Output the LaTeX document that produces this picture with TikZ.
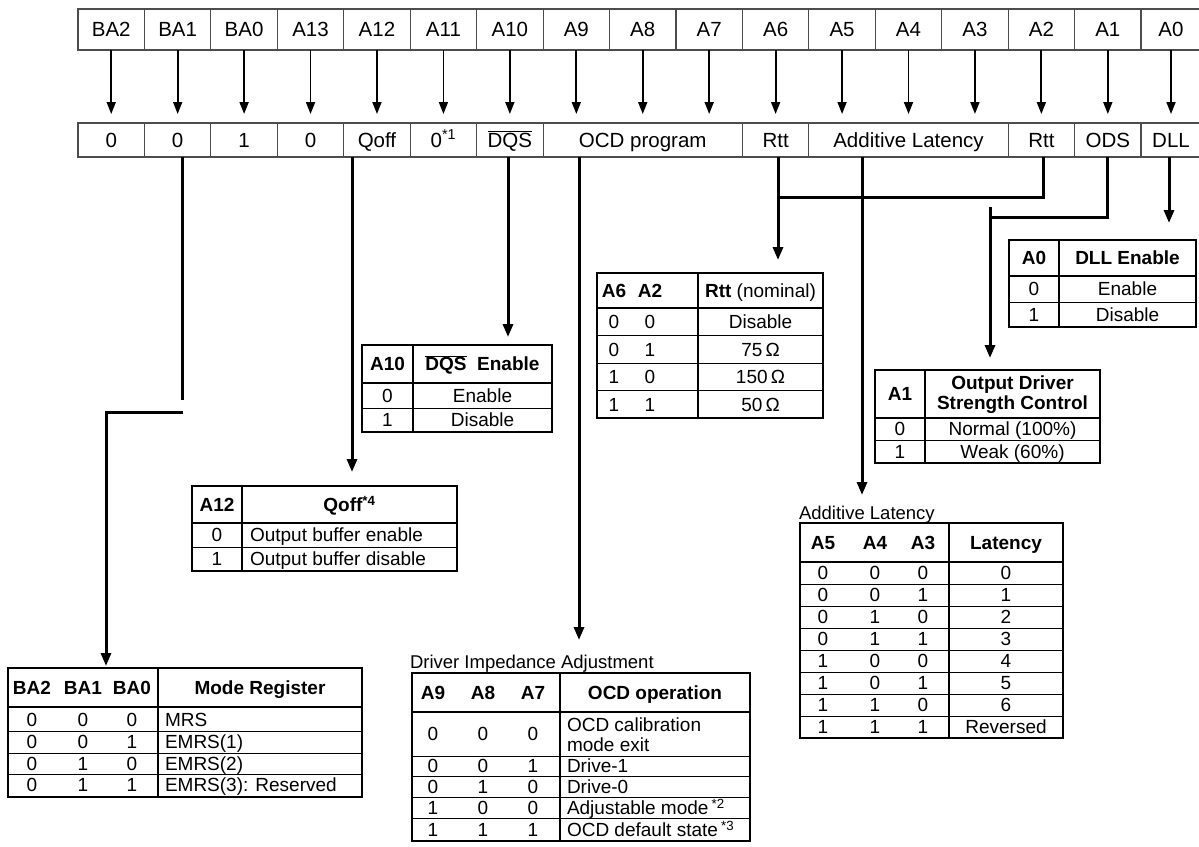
\documentclass[tikz,border=0pt]{standalone}
\usepackage{fontspec}
\setmainfont{Liberation Sans}
\usetikzlibrary{arrows.meta}
\newcommand\myregfont{\fontsize{20.5}{22}\selectfont}
\newcommand\mytabfont{\fontsize{19}{21}\selectfont}
\newcommand\mytabtwofont{\fontsize{19}{20}\selectfont}
\newcommand\mycapfont{\fontsize{18.5}{20}\selectfont}
\begin{document}
\begin{tikzpicture}[x=1pt,y=-1pt,
  every node/.style={inner sep=0pt, outer sep=0pt},
  reg1/.style={draw=black!70, line width=1.1pt, minimum height=41pt, font=\myregfont, text height=14.7pt, text depth=0pt},
  reg2/.style={draw=black!70, line width=1.1pt, minimum height=34pt, font=\myregfont, text height=14.7pt, text depth=0pt},
  regarr/.style={line width=1.8pt, -{Triangle[length=12pt,width=9pt]}, shorten >=9pt},
  conn/.style={line width=3pt},
  connarr/.style={line width=3pt, -{Triangle[length=13pt,width=10pt]}},
  frame/.style={draw, line width=2.8pt},
  hdr/.style={line width=2.6pt},
  rowl/.style={line width=1pt},
  coll/.style={line width=1.4pt},
  tt/.style={font=\mytabfont, text height=13.7pt, text depth=0pt},
  th/.style={font=\mytabfont\bfseries, text height=13.7pt, text depth=0pt},
  ttwo/.style={font=\mytabtwofont},
  captext/.style={font=\mycapfont, text height=13.3pt, text depth=0pt}
]
\useasboundingbox (0,0) rectangle (1199,846);
\clip (0,0) rectangle (1199,846);

% ---------- register row 1 ----------
\foreach \lab [count=\i from 0] in {BA2,BA1,BA0,A13,A12,A11,A10,A9,A8,A7,A6,A5,A4,A3,A2,A1} {
  \node[reg1, minimum width=66.44pt] (r\i) at ({78+66.44*(\i+0.5)},29.5) {\lab};
}
\node[reg1, minimum width=60pt] (r16) at (1171,29.5) {A0};

% ---------- register row 2 ----------
\foreach \lab [count=\i from 0] in {0,0,1,0,Qoff} {
  \node[reg2, minimum width=66.44pt] (z\i) at ({78+66.44*(\i+0.5)},140) {\lab};
}
\node[reg2, minimum width=66.44pt] (z5) at (443.42,140) {0\textsuperscript{*1}};
\node[reg2, minimum width=66.44pt] (z6) at (509.86,140) {$\overline{\hbox{DQS}}$};
\node[reg2, minimum width=199.32pt] (z7) at (642.74,140) {OCD program};
\node[reg2, minimum width=66.44pt] (z10) at (775.62,140) {Rtt};
\node[reg2, minimum width=199.32pt] (z11) at (908.5,140) {Additive Latency};
\node[reg2, minimum width=66.44pt] (z14) at (1041.38,140) {Rtt};
\node[reg2, minimum width=66.44pt] (z15) at (1107.82,140) {ODS};
\node[reg2, minimum width=60pt] (z16) at (1171,140) {DLL};

\foreach \i in {0,...,16} \draw[regarr] (r\i.south) -- (r\i.south |- z0.north);

% ---------- tables (frames as nodes) ----------
\node[frame, minimum width=354pt, minimum height=129pt] (mt) at (185,732.5) {};
\node[frame, minimum width=190pt, minimum height=87pt] (dt) at (457,388.5) {};
\node[frame, minimum width=265pt, minimum height=85pt] (qt) at (324.5,528.5) {};
\node[frame, minimum width=226pt, minimum height=145pt] (rt) at (710,345.5) {};
\node[frame, minimum width=187pt, minimum height=87pt] (lt) at (1102.5,283.5) {};
\node[frame, minimum width=225pt, minimum height=93pt] (odt) at (987.5,416.5) {};
\node[frame, minimum width=263pt, minimum height=215pt] (at) at (931.5,630.5) {};
\node[frame, minimum width=338pt, minimum height=168pt] (ct) at (581,757) {};

% ---------- connector coordinates ----------
\coordinate (ba1end) at (182,400);
\coordinate (ba1k1) at (183,412);
\coordinate (ba1k2) at (106,412);
\coordinate (mtin) at (106,666);
\coordinate (qin) at (352,472);
\coordinate (din) at (508,337);
\coordinate (cin) at (579,640);
\coordinate (rin) at (778,260);
\coordinate (rk) at (1043,197);
\coordinate (rj) at (778,197);
\coordinate (ain) at (862,495);
\coordinate (ok) at (1107,217);
\coordinate (oj) at (990,217);
\coordinate (oj2) at (990,207);
\coordinate (oin) at (990,358);
\coordinate (lin) at (1169,223);

\draw[conn] (z1.south -| ba1end) -- (ba1end);
\draw[connarr] (ba1k1) -- (ba1k2) -- (mtin);
\draw[connarr] (z4.south -| qin) -- (qin);
\draw[connarr] (z6.south -| din) -- (din);
\draw[connarr] (z7.south -| cin) -- (cin);
\draw[connarr] (z10.south -| rin) -- (rin);
\draw[conn] (z14.south -| rk) -- (rk) -- (rj);
\draw[connarr] (z11.south -| ain) -- (ain);
\draw[conn] (z15.south -| ok) -- (ok) -- (oj);
\draw[connarr] (oj2) -- (oin);
\draw[connarr] (z16.south -| lin) -- (lin);

% ---------- Mode register table ----------
\draw[hdr] (8,707) -- (362,707);
\draw[coll] (158,668) -- (158,797);
\foreach \yy in {731,753,774} \draw[rowl] (8,\yy) -- (362,\yy);
\node[th] (mth1) at (32,688) {BA2};
\node[th] (mth2) at (83,688) {BA1};
\node[th] (mth3) at (132,688) {BA0};
\node[th] (mth4) at (260,688) {Mode Register};
\foreach \a/\b/\c/\d [count=\k] in {0/0/0/MRS,0/0/1/EMRS(1),0/1/0/EMRS(2),0/1/1/{EMRS(3): Reserved}} {
  \pgfmathsetmacro\yy{709+21.75*(\k-0.5)}
  \node[tt] (mr\k-a) at (32,\yy) {\a};
  \node[tt] (mr\k-b) at (83,\yy) {\b};
  \node[tt] (mr\k-c) at (132,\yy) {\c};
  \node[tt, anchor=west] (mr\k-d) at (165,\yy) {\d};
}

% ---------- DQS table ----------
\draw[hdr] (362,383) -- (552,383);
\draw[rowl] (362,408) -- (552,408);
\draw[coll] (413,345) -- (413,432);
\node[th] (dth1) at (387.5,364) {A10};
\node[th] (dth2) at (482.5,364) {$\overline{\hbox{DQS}}$\ \ Enable};
\node[tt] (dr1a) at (387.5,396) {0};
\node[tt] (dr1b) at (482.5,396) {Enable};
\node[tt] (dr2a) at (387.5,420) {1};
\node[tt] (dr2b) at (482.5,420) {Disable};

% ---------- Qoff table ----------
\draw[hdr] (192,523) -- (457,523);
\draw[rowl] (192,547) -- (457,547);
\draw[coll] (242,486) -- (242,571);
\node[th] (qth1) at (217,504.5) {A12};
\node[th] (qth2) at (349.5,504.5) {Qoff\textsuperscript{*4}};
\node[tt] (qr1a) at (217,535) {0};
\node[tt, anchor=west] (qr1b) at (250,535) {Output buffer enable};
\node[tt] (qr2a) at (217,559) {1};
\node[tt, anchor=west] (qr2b) at (250,559) {Output buffer disable};

% ---------- Rtt table ----------
\draw[hdr] (597,308) -- (823,308);
\foreach \yy in {335.5,363,390.5} \draw[rowl] (597,\yy) -- (823,\yy);
\draw[coll] (698,273) -- (698,418);
\node[th] (rth1) at (614,290.5) {A6};
\node[th] (rth2) at (650,290.5) {A2};
\node[tt] (rth3) at (760.5,290.5) {{\bfseries Rtt} (nominal)};
\foreach \a/\b/\c [count=\k] in {0/0/Disable,0/1/{75\,Ω},1/0/{150\,Ω},1/1/{50\,Ω}} {
  \pgfmathsetmacro\yy{308+27.5*(\k-0.5)}
  \node[tt] (rr\k-a) at (614,\yy) {\a};
  \node[tt] (rr\k-b) at (650,\yy) {\b};
  \node[tt] (rr\k-c) at (760.5,\yy) {\c};
}

% ---------- DLL table ----------
\draw[hdr] (1009,276) -- (1196,276);
\draw[rowl] (1009,302) -- (1196,302);
\draw[coll] (1059,240) -- (1059,327);
\node[th] (lth1) at (1034,258) {A0};
\node[th] (lth2) at (1127.5,258) {DLL Enable};
\node[tt] (lr1a) at (1034,289) {0};
\node[tt] (lr1b) at (1127.5,289) {Enable};
\node[tt] (lr2a) at (1034,314.5) {1};
\node[tt] (lr2b) at (1127.5,314.5) {Disable};

% ---------- Output driver table ----------
\draw[hdr] (875,418) -- (1100,418);
\draw[rowl] (875,440.5) -- (1100,440.5);
\draw[coll] (925,370) -- (925,463);
\node[th] (oth1) at (900,394) {A1};
\node[ttwo, font=\mytabtwofont\bfseries, align=center] (oth2) at (1012.5,395) {Output Driver\\Strength Control};
\node[tt] (or1a) at (900,429) {0};
\node[tt] (or1b) at (1012.5,429) {Normal (100\%)};
\node[tt] (or2a) at (900,452) {1};
\node[tt] (or2b) at (1012.5,452) {Weak (60\%)};

% ---------- Additive latency table ----------
\node[captext, anchor=west] (alcap) at (799,513) {Additive Latency};
\draw[hdr] (800,562) -- (1063,562);
\foreach \yy in {584,606,628,650,672,694,716} \draw[rowl] (800,\yy) -- (1063,\yy);
\draw[coll] (949,523) -- (949,738);
\node[th] (ath1) at (823,542.5) {A5};
\node[th] (ath2) at (875,542.5) {A4};
\node[th] (ath3) at (923,542.5) {A3};
\node[th] (ath4) at (1006,542.5) {Latency};
\foreach \a/\b/\c/\d [count=\k] in {0/0/0/0,0/0/1/1,0/1/0/2,0/1/1/3,1/0/0/4,1/0/1/5,1/1/0/6,1/1/1/Reversed} {
  \pgfmathsetmacro\yy{562+22*(\k-0.5)}
  \node[tt] (ar\k-a) at (823,\yy) {\a};
  \node[tt] (ar\k-b) at (875,\yy) {\b};
  \node[tt] (ar\k-c) at (923,\yy) {\c};
  \node[tt] (ar\k-d) at (1006,\yy) {\d};
}

% ---------- OCD table ----------
\node[captext, anchor=west] (ccap) at (410,662) {Driver Impedance Adjustment};
\draw[hdr] (412,712) -- (750,712);
\foreach \yy in {756,776,797,818} \draw[rowl] (412,\yy) -- (750,\yy);
\draw[coll] (560,673) -- (560,841);
\node[th] (cth1) at (433,692.5) {A9};
\node[th] (cth2) at (483,692.5) {A8};
\node[th] (cth3) at (533,692.5) {A7};
\node[th] (cth4) at (655,692.5) {OCD operation};
\node[tt] (cr1a) at (433,734) {0};
\node[tt] (cr1b) at (483,734) {0};
\node[tt] (cr1c) at (533,734) {0};
\node[ttwo, anchor=west, align=left] (cr1d) at (567,735) {OCD calibration\\mode exit};
\foreach \a/\b/\c/\d/\yy [count=\k from 2] in {0/0/1/Drive-1/766,0/1/0/Drive-0/786.5,1/0/0/{Adjustable mode\,\textsuperscript{*2}}/807.5,1/1/1/{OCD default state\,\textsuperscript{*3}}/829.5} {
  \node[tt] (cr\k-a) at (433,\yy) {\a};
  \node[tt] (cr\k-b) at (483,\yy) {\b};
  \node[tt] (cr\k-c) at (533,\yy) {\c};
  \node[tt, anchor=west] (cr\k-d) at (567,\yy) {\d};
}
\end{tikzpicture}
\end{document}
